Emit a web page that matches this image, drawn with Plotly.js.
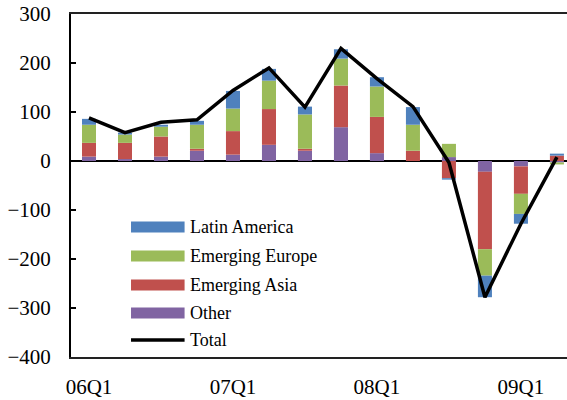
<!DOCTYPE html>
<html>
<head>
<meta charset="utf-8">
<script src="https://cdn.plot.ly/plotly-3.0.1.min.js"></script>
<style>html,body{margin:0;padding:0;background:#fff;font-family:'Liberation Serif';}#chart{width:567px;height:400px;}</style>
</head>
<body>
<div id="chart"></div>
<script>
var quarters = ["06Q1","06Q2","06Q3","06Q4","07Q1","07Q2","07Q3","07Q4","08Q1","08Q2","08Q3","08Q4","09Q1","09Q2"];
var tickLabels = ["06Q1","07Q1","08Q1","09Q1"];
var other  = [9, 4, 9, 21, 13, 33, 21, 69, 16, 0, 8, -22, -11, -3];
var asia   = [28, 33, 41, 4, 48, 73, 4, 85, 74, 21, -35, -158, -56, 11];
var europe = [37, 17, 20, 49, 46, 58, 70, 55, 62, 53, 27, -54, -41, -4];
var latam  = [12, 4, 4, 8, 36, 24, 16, 19, 19, 36, -3, -44, -20, 4];
var total  = [88, 58, 79, 84, 144, 190, 110, 230, 168, 111, -3, -278, -128, 8];

var seriesNames = ["Latin America","Emerging Europe","Emerging Asia","Other","Total"];
var colors = {"Latin America":"#4F81BD","Emerging Europe":"#9BBB59","Emerging Asia":"#C0504D","Other":"#8064A2","Total":"#000000"};

var FONT = "Liberation Serif";

function bar(name, vals){
  return {type:"bar", name:name, x:quarters, y:vals, marker:{color:colors[name], line:{width:0}}, showlegend:false, hoverinfo:"x+y+name"};
}
var traces = [
  bar("Other", other),
  bar("Emerging Asia", asia),
  bar("Emerging Europe", europe),
  bar("Latin America", latam),
  {type:"scatter", mode:"lines", name:"Total", x:quarters, y:total, line:{color:"#000", width:3.5}, showlegend:false}
];

// custom legend (layout positions in paper coords)
var legX0 = 0.121, legX1 = 0.229, legTextX = 0.236;
var legY = [0.379, 0.2945, 0.2099, 0.1283, 0.0496];
var shapes = [], annotations = [];
seriesNames.forEach(function(n, i){
  if (n === "Total") {
    shapes.push({type:"line", xref:"paper", yref:"paper", x0:legX0, x1:legX1, y0:legY[i], y1:legY[i], line:{color:"#000", width:3.5}});
  } else {
    shapes.push({type:"rect", xref:"paper", yref:"paper", x0:legX0, x1:legX1, y0:legY[i]-0.016, y1:legY[i]+0.016, fillcolor:colors[n], line:{width:0}});
  }
  annotations.push({xref:"paper", yref:"paper", x:legTextX, y:legY[i], xanchor:"left", yanchor:"middle", text:n, showarrow:false, font:{family:FONT, size:18, color:"#000"}});
});

var layout = {
  width:567, height:400,
  margin:{l:71, r:0, t:14, b:43, pad:0},
  paper_bgcolor:"#fff", plot_bgcolor:"#fff",
  barmode:"relative", bargap:0.61,
  font:{family:FONT, size:21, color:"#000"},
  xaxis:{type:"category", range:[-0.5, 13.28], tickvals:tickLabels, ticktext:tickLabels, ticks:"", showgrid:false, zeroline:false,
         showline:true, linecolor:"#222", linewidth:2, mirror:true, tickfont:{family:FONT, size:21, color:"#000"}, ticklabelstandoff:10},
  yaxis:{range:[-400,300], dtick:100, tick0:0, ticks:"inside", ticklen:5, tickwidth:1.5, tickcolor:"#000", showgrid:false,
         zeroline:true, zerolinecolor:"#000", zerolinewidth:2, showline:true, linecolor:"#000", linewidth:2,
         tickfont:{family:FONT, size:21, color:"#000"}, ticklabelstandoff:14},
  showlegend:false,
  shapes:shapes, annotations:annotations
};
Plotly.newPlot("chart", traces, layout, {displayModeBar:false, staticPlot:true});
</script>
</body>
</html>
